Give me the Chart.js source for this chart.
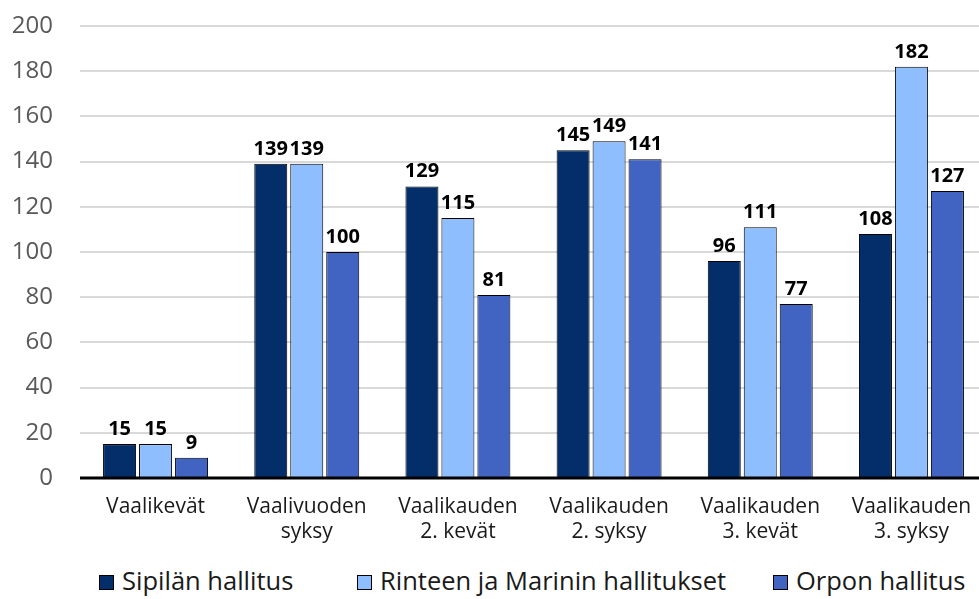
<!DOCTYPE html>
<html lang="fi">
<head>
    <meta charset="UTF-8">
    <title>Hallitukset</title>
    <script src="https://cdn.jsdelivr.net/npm/chart.js"></script>
    <style>
        body {
            margin: 0;
            width: 979px;
            height: 599px;
            overflow: hidden;
            background: #fff;
            font-family: "Open Sans", Arial, sans-serif;
        }
        .wrap {
            position: relative;
            width: 990px;
            height: 550px;
        }
        .legend {
            position: absolute;
            top: 565px;
            left: 0;
            width: 979px;
            height: 30px;
            font-size: 25.5px;
            color: #1a1a1a;
        }
        .legend span.item {
            position: absolute;
            top: 0;
            white-space: nowrap;
            line-height: 30px;
        }
        .legend i {
            display: inline-block;
            width: 13px;
            height: 13px;
            border: 1px solid #000;
            margin-right: 8px;
            vertical-align: 0px;
        }
    </style>
</head>
<body>
    <div class="wrap">
        <canvas id="chart" width="990" height="550"></canvas>
    </div>
    <div class="legend" id="legend"></div>

    <script>
        const categories = [
            ['Vaalikevät'],
            ['Vaalivuoden', 'syksy'],
            ['Vaalikauden', '2. kevät'],
            ['Vaalikauden', '2. syksy'],
            ['Vaalikauden', '3. kevät'],
            ['Vaalikauden', '3. syksy']
        ];
        const seriesNames = ['Sipilän hallitus', 'Rinteen ja Marinin hallitukset', 'Orpon hallitus'];
        const sipila = [15, 139, 129, 145, 96, 108];
        const rinneMarin = [15, 139, 115, 149, 111, 182];
        const orpo = [9, 100, 81, 141, 77, 127];
        const colors = ['#032e6a', '#8fbeff', '#4163c1'];
        const yTicks = [0, 20, 40, 60, 80, 100, 120, 140, 160, 180, 200];

        const fontFamily = '"Open Sans", Arial, sans-serif';

        // labels above the bars
        const valueLabels = {
            id: 'valueLabels',
            afterDatasetsDraw(chart) {
                const ctx = chart.ctx;
                ctx.save();
                ctx.font = 'bold 20px ' + fontFamily;
                ctx.fillStyle = '#000';
                ctx.textAlign = 'center';
                ctx.textBaseline = 'alphabetic';
                chart.data.datasets.forEach((ds, i) => {
                    chart.getDatasetMeta(i).data.forEach((bar, j) => {
                        ctx.fillText(ds.data[j], bar.x, bar.y - 9);
                    });
                });
                ctx.restore();
            }
        };

        // black zero line on top of the bars
        const zeroLine = {
            id: 'zeroLine',
            afterDatasetsDraw(chart) {
                const ctx = chart.ctx;
                const y = chart.scales.y.getPixelForValue(0);
                ctx.save();
                ctx.strokeStyle = '#000';
                ctx.lineWidth = 3;
                ctx.beginPath();
                ctx.moveTo(chart.chartArea.left, y);
                ctx.lineTo(chart.chartArea.right, y);
                ctx.stroke();
                ctx.restore();
            }
        };

        const datasets = [sipila, rinneMarin, orpo].map((d, i) => ({
            label: seriesNames[i],
            data: d,
            backgroundColor: colors[i],
            borderColor: '#000',
            borderWidth: 1,
            categoryPercentage: 0.714,
            barPercentage: 0.917
        }));

        new Chart(document.getElementById('chart'), {
            type: 'bar',
            data: { labels: categories, datasets: datasets },
            options: {
                responsive: false,
                animation: false,
                layout: { padding: { top: 26, right: 3, left: 0, bottom: 0 } },
                plugins: {
                    legend: { display: false },
                    tooltip: { enabled: false }
                },
                scales: {
                    x: {
                        grid: { display: false, drawTicks: false },
                        border: { display: false },
                        ticks: {
                            color: '#1a1a1a',
                            font: { family: fontFamily, size: 21, lineHeight: 1.22 },
                            padding: 16,
                            maxRotation: 0,
                            autoSkip: false
                        },
                        afterFit(scale) { scale.height = 72; }
                    },
                    y: {
                        min: 0,
                        max: 200,
                        afterBuildTicks(scale) {
                            scale.ticks = yTicks.map(v => ({ value: v }));
                        },
                        grid: {
                            color: '#d9d9d9',
                            lineWidth: 2,
                            drawTicks: false
                        },
                        border: { display: false },
                        ticks: {
                            color: '#595959',
                            font: { family: fontFamily, size: 24 },
                            padding: 27
                        },
                        afterFit(scale) {
                            scale.width = 80;
                            scale.paddingTop = 0;
                            scale.paddingBottom = 0;
                        }
                    }
                }
            },
            plugins: [zeroLine, valueLabels]
        });

        const legendLeft = [99, 357, 773];
        const legend = document.getElementById('legend');
        seriesNames.forEach((name, i) => {
            const item = document.createElement('span');
            item.className = 'item';
            item.style.left = legendLeft[i] + 'px';
            item.innerHTML = '<i style="background:' + colors[i] + '"></i>' + name;
            legend.appendChild(item);
        });
    </script>
</body>
</html>
